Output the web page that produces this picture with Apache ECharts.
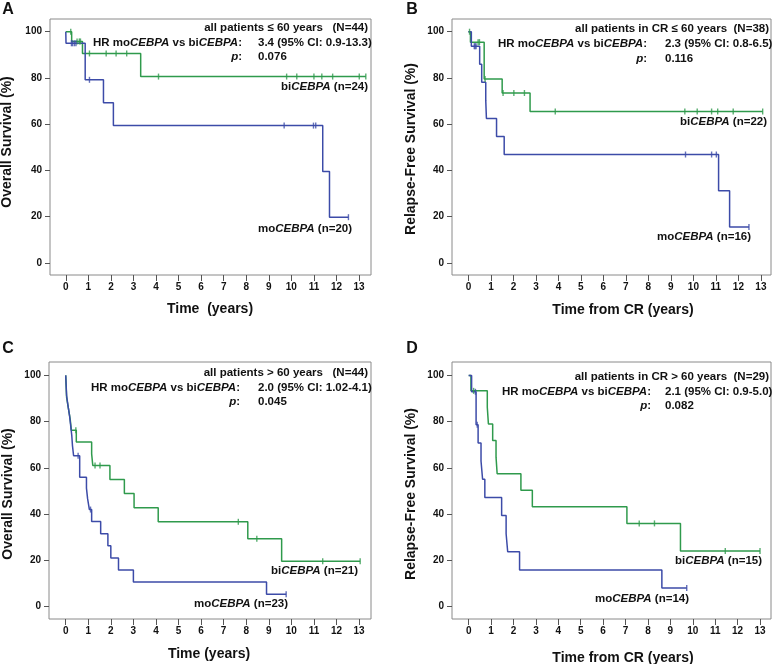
<!DOCTYPE html>
<html>
<head>
<meta charset="utf-8">
<script src="https://cdn.jsdelivr.net/npm/echarts@6/dist/echarts.min.js"></script>
<style>html,body{margin:0;padding:0;background:#fff}#c{width:778px;height:664px}</style>
</head>
<body>
<div id="c"></div>
<script>
// ---- data (time in years, survival in %) ----
const xTicks = [0,1,2,3,4,5,6,7,8,9,10,11,12,13];
const yTicks = [0,20,40,60,80,100];

// Panel A: Overall survival, <= 60 years
const aBiEvents = [[0.26,95.8],[0.74,90.6],[3.32,80.6]];
const aBiCensor = [0.22,0.5,0.6,0.65,1.05,1.79,2.23,2.7,4.11,9.79,10.24,11.0,11.35,11.83,13.01,13.3];
const aMoEvents = [[0.01,95.0],[0.86,79.2],[1.67,69.3],[2.11,59.4],[11.39,39.6],[11.69,19.8]];
const aMoCensor = [0.25,0.3,0.38,0.45,1.05,9.68,10.98,11.08,12.53];

// Panel B: Relapse-free survival, CR <= 60 years
const bBiEvents = [[0.09,95.5],[0.70,79.6],[1.50,73.5],[2.74,65.5]];
const bBiCensor = [0.05,0.43,0.49,0.74,1.54,2.02,2.49,3.86,9.62,10.17,10.81,11.08,11.77,13.08];
const bMoEvents = [[0.13,93.75],[0.5,85.9],[0.59,78.1],[0.77,70.3],[0.8,62.5],[1.25,54.7],[1.59,46.9],[11.12,31.25],[11.61,15.6]];
const bMoCensor = [0.26,0.3,0.34,9.65,10.81,11.02,12.47];

// Panel C: Overall survival, > 60 years
const cBiEvents = [[0.02,95.2],[0.04,90.5],[0.12,85.7],[0.2,81.0],[0.25,76.2],[0.47,71.1],[1.15,66.0],[1.2,61.0],[1.96,54.9],[2.6,48.8],[3.03,42.7],[4.1,36.6],[8.07,29.3],[9.57,19.5]];
const cBiCensor = [0.45,1.30,1.52,7.65,8.47,11.39,13.05];
const cMoEvents = [[0.02,95.7],[0.04,91.3],[0.1,87.0],[0.17,82.6],[0.22,78.3],[0.27,73.9],[0.3,69.6],[0.35,65.2],[0.62,55.9],[0.92,51.2],[0.97,46.6],[1.05,41.9],[1.15,36.7],[1.55,31.4],[1.87,26.2],[2.0,20.9],[2.34,15.7],[3.0,10.5],[8.9,5.2]];
const cMoCensor = [0.55,1.1,9.77];

// Panel D: Relapse-free survival, CR > 60 years
const dBiEvents = [[0.1,93.3],[0.83,86.2],[0.88,79.0],[1.07,71.8],[1.22,64.6],[1.27,57.4],[2.33,50.3],[2.84,43.1],[7.06,35.9],[9.45,23.9]];
const dBiCensor = [0.22,7.61,8.29,11.45,13.0];
const dMoEvents = [[0.13,92.9],[0.33,78.6],[0.42,70.7],[0.55,62.9],[0.62,55.0],[0.72,47.1],[1.47,39.3],[1.67,31.4],[1.74,23.6],[2.27,15.7],[8.62,7.9]];
const dMoCensor = [0.3,0.38,9.73];

// ---- styling ----
const GREEN = '#2f9a4c';
const BLUE = '#3c4ba8';
const FF = '"Liberation Sans", Arial, sans-serif';
const TXT = '#111';

function survAt(ev, t){ let s = 100; for (const [et, es] of ev){ if (et <= t) s = es; } return s; }
function lineData(ev, cens){
  const d = [[0,100]].concat(ev);
  const tEnd = Math.max.apply(null, cens);
  d.push([tEnd, survAt(ev, tEnd)]);
  return d;
}
function censorData(ev, cens){ return cens.map(t => [t, survAt(ev, t)]); }

const panels = [
  {grid:{left:50, top:19, width:321, height:256}, xMin:-0.7, xMax:13.53, yMin:-5.2, yMax:105.5,
   bi:[aBiEvents,aBiCensor], mo:[aMoEvents,aMoCensor]},
  {grid:{left:452, top:19, width:319, height:256}, xMin:-0.73, xMax:13.45, yMin:-5.2, yMax:105.5,
   bi:[bBiEvents,bBiCensor], mo:[bMoEvents,bMoCensor]},
  {grid:{left:49, top:362, width:322, height:257}, xMin:-0.74, xMax:13.53, yMin:-5.5, yMax:105.8,
   bi:[cBiEvents,cBiCensor], mo:[cMoEvents,cMoCensor]},
  {grid:{left:452, top:362, width:319, height:257}, xMin:-0.745, xMax:13.49, yMin:-5.5, yMax:105.8,
   bi:[dBiEvents,dBiCensor], mo:[dMoEvents,dMoCensor]}
];

const grids = [], xAxes = [], yAxes = [], series = [];
panels.forEach((p, i) => {
  grids.push(Object.assign({show:true, borderColor:'#8a8a8a', borderWidth:1, containLabel:false}, p.grid));
  xAxes.push({gridIndex:i, type:'value', min:p.xMin, max:p.xMax, position:'bottom',
    axisLine:{show:false, onZero:false}, splitLine:{show:false},
    axisTick:{show:true, inside:false, customValues:xTicks, length:6, lineStyle:{color:'#555', width:1}},
    axisLabel:{customValues:xTicks, fontSize:10, fontWeight:'bold', color:TXT, fontFamily:FF, margin:7}});
  yAxes.push({gridIndex:i, type:'value', min:p.yMin, max:p.yMax, position:'left',
    axisLine:{show:false, onZero:false}, splitLine:{show:false},
    axisTick:{show:true, inside:false, customValues:yTicks, length:5, lineStyle:{color:'#555', width:1}},
    axisLabel:{customValues:yTicks, fontSize:10, fontWeight:'bold', color:TXT, fontFamily:FF, margin:8}});
  [[p.bi, GREEN],[p.mo, BLUE]].forEach(([g, col]) => {
    series.push({type:'line', xAxisIndex:i, yAxisIndex:i, step:'end', data:lineData(g[0], g[1]),
      showSymbol:false, symbol:'none', lineStyle:{color:col, width:1.5}, itemStyle:{color:col}, silent:true, z:2});
    series.push({type:'scatter', xAxisIndex:i, yAxisIndex:i, data:censorData(g[0], g[1]),
      symbol:'rect', symbolSize:[1.4,6], itemStyle:{color:col}, silent:true, z:3});
  });
});

// ---- text ----
const FS = 11.5;
const rich = {
  n:{fontSize:FS, fontWeight:'bold', fontFamily:FF, fill:TXT},
  i:{fontSize:FS, fontWeight:'bold', fontStyle:'italic', fontFamily:FF, fill:TXT}
};
function txt(x, y, text, align, opts){
  return Object.assign({type:'text', x:x, y:y, silent:true,
    style:{text:text, rich:rich, align:align||'left', verticalAlign:'middle', fill:TXT,
      font:'bold '+FS+'px '+FF}}, opts||{});
}
function plain(x, y, text, size, align, rot){
  return {type:'text', x:x, y:y, rotation:rot||0, silent:true,
    style:{text:text, font:'bold '+size+'px '+FF, fill:TXT, align:align||'center', verticalAlign:'middle'}};
}
const hrLabel = '{n|HR mo}{i|CEBPA}{n| vs bi}{i|CEBPA}{n|:}';
const pLabel = '{i|p}{n|:}';
const graphics = [
  // panel letters
  plain(8, 10, 'A', 16), plain(412, 10, 'B', 16), plain(8, 349, 'C', 16), plain(412, 349, 'D', 16),
  // Panel A
  txt(368, 28, '{n|all patients ≤ 60 years   (N=44)}', 'right'),
  txt(242, 43, hrLabel, 'right'), txt(258, 43, '{n|3.4 (95% CI: 0.9-13.3)}', 'left'),
  txt(242, 57, pLabel, 'right'), txt(258, 57, '{n|0.076}', 'left'),
  txt(368, 87, '{n|bi}{i|CEBPA}{n| (n=24)}', 'right'),
  txt(352, 229, '{n|mo}{i|CEBPA}{n| (n=20)}', 'right'),
  plain(210, 309, 'Time  (years)', 14), plain(7, 142, 'Overall Survival (%)', 14, 'center', Math.PI/2),
  // Panel B
  txt(769, 29, '{n|all patients in CR ≤ 60 years  (N=38)}', 'right'),
  txt(647, 43.5, hrLabel, 'right'), txt(665, 43.5, '{n|2.3 (95% CI: 0.8-6.5)}', 'left'),
  txt(647, 58.5, pLabel, 'right'), txt(665, 58.5, '{n|0.116}', 'left'),
  txt(767, 122, '{n|bi}{i|CEBPA}{n| (n=22)}', 'right'),
  txt(751, 237, '{n|mo}{i|CEBPA}{n| (n=16)}', 'right'),
  plain(623, 310, 'Time from CR (years)', 14), plain(411, 149, 'Relapse-Free Survival (%)', 14, 'center', Math.PI/2),
  // Panel C
  txt(368, 372.5, '{n|all patients > 60 years   (N=44)}', 'right'),
  txt(240, 387.5, hrLabel, 'right'), txt(258, 387.5, '{n|2.0 (95% CI: 1.02-4.1)}', 'left'),
  txt(240, 401.5, pLabel, 'right'), txt(258, 401.5, '{n|0.045}', 'left'),
  txt(358, 571, '{n|bi}{i|CEBPA}{n| (n=21)}', 'right'),
  txt(288, 604, '{n|mo}{i|CEBPA}{n| (n=23)}', 'right'),
  plain(209, 654, 'Time (years)', 14), plain(8, 494, 'Overall Survival (%)', 14, 'center', Math.PI/2),
  // Panel D
  txt(769, 376.5, '{n|all patients in CR > 60 years  (N=29)}', 'right'),
  txt(651, 392, hrLabel, 'right'), txt(665, 392, '{n|2.1 (95% CI: 0.9-5.0)}', 'left'),
  txt(651, 406, pLabel, 'right'), txt(665, 406, '{n|0.082}', 'left'),
  txt(762, 561, '{n|bi}{i|CEBPA}{n| (n=15)}', 'right'),
  txt(689, 598.5, '{n|mo}{i|CEBPA}{n| (n=14)}', 'right'),
  plain(623, 658, 'Time from CR (years)', 14), plain(411, 494, 'Relapse-Free Survival (%)', 14, 'center', Math.PI/2)
];

const chart = echarts.init(document.getElementById('c'), null, {renderer:'canvas'});
chart.setOption({
  animation:false,
  backgroundColor:'#fff',
  grid:grids, xAxis:xAxes, yAxis:yAxes, series:series,
  graphic:{elements:graphics}
});
</script>
</body>
</html>
